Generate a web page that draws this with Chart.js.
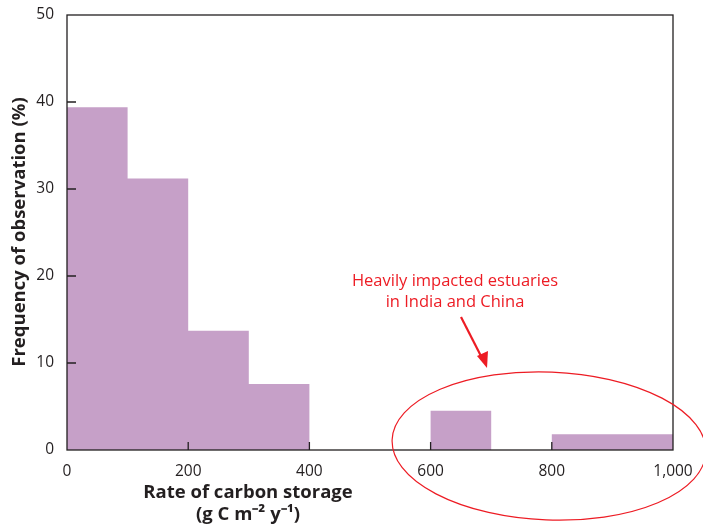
<!DOCTYPE html>
<html>
<head>
<meta charset="utf-8">
<script src="https://cdn.jsdelivr.net/npm/chart.js@4.4.0/dist/chart.umd.min.js"></script>
<style>
  body { margin: 0; background: #fff; }
</style>
</head>
<body>
<canvas id="HistChart" width="703" height="526"></canvas>
<script>
// histogram bins (g C m-2 y-1) and frequency (%)
var binStart = [0, 100, 200, 300, 600, 800];
var binEnd = [100, 200, 300, 400, 700, 1000];
var freq = [39.4, 31.2, 13.7, 7.6, 4.5, 1.8];
var xTicks = [0, 200, 400, 600, 800, 1000];
var yTicks = [0, 10, 20, 30, 40, 50];

var barColor = 'rgb(198, 160, 200)';
var inkColor = '#231f20';
var noteColor = '#ed1c24';

// one stepped outline so neighbouring bins share edges (no seams)
var steps = [];
binStart.forEach(function (s, i) {
    steps.push({ x: s, y: freq[i] });
    var next = binStart[i + 1];
    if (next === undefined) {
        steps.push({ x: binEnd[i], y: freq[i] });
    } else if (next !== binEnd[i]) {
        steps.push({ x: binEnd[i], y: 0 });
    }
});

var decor = {
    id: 'decor',
    afterDatasetsDraw: function (chart) {
        var c = chart.ctx, a = chart.chartArea;
        var xs = chart.scales.x, ys = chart.scales.y;
        c.save();
        c.strokeStyle = inkColor;
        c.lineWidth = 1.3;
        // frame
        c.strokeRect(a.left, a.top, a.right - a.left, a.bottom - a.top);
        // inner ticks
        c.beginPath();
        yTicks.slice(1, 5).forEach(function (v) {
            var y = ys.getPixelForValue(v);
            c.moveTo(a.left, y);
            c.lineTo(a.left + 9, y);
        });
        xTicks.slice(1, 5).forEach(function (v) {
            var x = xs.getPixelForValue(v);
            c.moveTo(x, a.bottom);
            c.lineTo(x, a.bottom - 8);
        });
        c.stroke();

        // axis titles
        c.fillStyle = inkColor;
        c.font = 'bold 18.5px "Open Sans"';
        c.textAlign = 'center';
        c.textBaseline = 'middle';
        c.fillText('Rate of carbon storage', 248, 493);
        c.fillText('(g C m⁻² y⁻¹)', 248, 515);
        c.save();
        c.translate(20, 232);
        c.rotate(-Math.PI / 2);
        c.fillText('Frequency of observation (%)', 0, 0);
        c.restore();

        // annotation
        c.fillStyle = noteColor;
        c.font = '16.5px "Open Sans"';
        c.fillText('Heavily impacted estuaries', 455, 281);
        c.fillText('in India and China', 455, 302);

        c.strokeStyle = noteColor;
        c.lineWidth = 2.2;
        c.beginPath();
        c.moveTo(461, 317);
        c.lineTo(483, 360);
        c.stroke();
        c.fillStyle = noteColor;
        c.beginPath();
        c.moveTo(487, 368);
        c.lineTo(477, 356);
        c.lineTo(488, 351);
        c.closePath();
        c.fill();

        c.lineWidth = 1.2;
        c.beginPath();
        c.ellipse(549, 446, 157, 74, 0.04, 0, Math.PI * 2);
        c.stroke();
        c.restore();
    }
};

var ctx = document.getElementById('HistChart').getContext('2d');
var myChart = new Chart(ctx, {
    type: 'line',
    data: {
        datasets: [{
            data: steps,
            stepped: true,
            backgroundColor: barColor,
            borderWidth: 0,
            pointRadius: 0,
            fill: 'origin'
        }]
    },
    options: {
        responsive: false,
        animation: false,
        layout: { padding: { top: 15, right: 30, left: 0, bottom: 0 } },
        plugins: { legend: { display: false }, tooltip: { enabled: false } },
        scales: {
            x: {
                type: 'linear',
                min: 0,
                max: 1000,
                afterFit: function (s) { s.height = 76; },
                afterBuildTicks: function (s) { s.ticks = xTicks.map(function (v) { return { value: v }; }); },
                grid: { display: false },
                border: { display: false },
                ticks: {
                    color: inkColor,
                    padding: 4,
                    maxRotation: 0,
                    font: { family: 'Open Sans', size: 15.5 },
                    callback: function (v) { return v.toLocaleString('en-US'); }
                }
            },
            y: {
                min: 0,
                max: 50,
                afterFit: function (s) { s.width = 67; },
                afterBuildTicks: function (s) { s.ticks = yTicks.map(function (v) { return { value: v }; }); },
                grid: { display: false },
                border: { display: false },
                ticks: {
                    color: inkColor,
                    padding: 5,
                    font: { family: 'Open Sans', size: 15.5 }
                }
            }
        }
    },
    plugins: [decor]
});
</script>
</body>
</html>
